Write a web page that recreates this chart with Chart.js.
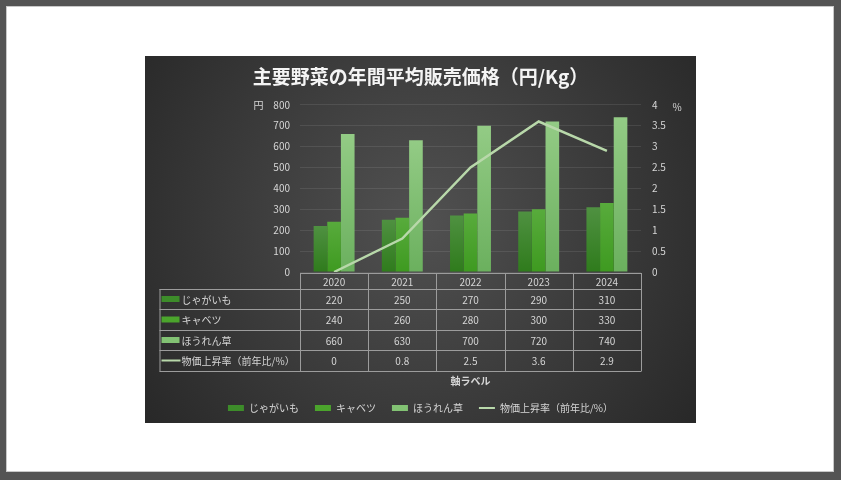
<!DOCTYPE html>
<html><head><meta charset="utf-8">
<script src="https://cdn.jsdelivr.net/npm/chart.js@4/dist/chart.umd.min.js"></script>
<style>
html,body{margin:0;padding:0;width:841px;height:480px;background:#545454;overflow:hidden;}
#frame{position:absolute;left:6px;top:6px;width:828px;height:466px;background:#fff;box-sizing:border-box;border:1px solid #c8c8c8;}
#wrap{position:absolute;left:145px;top:56px;width:551px;height:367px;}
canvas{display:block;}
</style></head><body>
<div id="frame"></div>
<div id="wrap"><canvas id="c" width="551" height="367"></canvas></div>
<script>
const categories = ['2020', '2021', '2022', '2023', '2024'];
const potato = [220, 250, 270, 290, 310];
const cabbage = [240, 260, 280, 300, 330];
const spinach = [660, 630, 700, 720, 740];
const inflation = [0, 0.8, 2.5, 3.6, 2.9];
const seriesNames = ['じゃがいも', 'キャベツ', 'ほうれん草', '物価上昇率（前年比/%）'];
const chartTitle = '主要野菜の年間平均販売価格（円/Kg）';
const leftUnit = '円';
const rightUnit = '%';
const axisLabel = '軸ラベル';

const FONT = '"Noto Sans CJK JP", "Noto Sans", sans-serif';
const TXT = '#d6d6d6';
const keyColors = ['#3d8c2a', '#4ba42c', '#82c273', '#b8d8aa'];

function barGrad(top, bottom) {
  return (ctx) => {
    const chart = ctx.chart;
    const ca = chart.chartArea;
    if (!ca || ctx.raw === undefined) return bottom;
    const y = chart.scales.y.getPixelForValue(ctx.raw);
    const g = chart.ctx.createLinearGradient(0, y, 0, ca.bottom);
    g.addColorStop(0, top);
    g.addColorStop(1, bottom);
    return g;
  };
}

const bgPlugin = {
  id: 'bg',
  beforeDraw(chart) {
    const {ctx, width, height} = chart;
    ctx.save();
    const g = ctx.createRadialGradient(width * 0.5, height * 0.45, 0, width * 0.5, height * 0.45, width * 0.62);
    g.addColorStop(0, '#515151');
    g.addColorStop(1, '#282828');
    ctx.fillStyle = g;
    ctx.fillRect(0, 0, width, height);
    ctx.restore();
  }
};

// title uses z:1, so it is drawn after the datasets; give it a soft drop shadow
const titleShadow = {
  id: 'titleShadow',
  afterDatasetsDraw(chart) {
    const ctx = chart.ctx;
    ctx.save();
    ctx.shadowColor = 'rgba(0,0,0,0.75)';
    ctx.shadowBlur = 3;
    ctx.shadowOffsetX = 1;
    ctx.shadowOffsetY = 1.5;
  },
  afterDraw(chart) {
    chart.ctx.restore();
  }
};

const tablePlugin = {
  id: 'table',
  afterDraw(chart) {
    const {ctx, chartArea: ca} = chart;
    const xs = chart.scales.x;
    const n = categories.length;
    const colW = (ca.right - ca.left) / n;
    const top = ca.bottom + 1;
    const rows = [top, top + 16, top + 36, top + 57, top + 77, top + 98];
    const labelLeft = 14.5;
    ctx.save();
    ctx.strokeStyle = '#9c9c9c';
    ctx.lineWidth = 1;
    ctx.beginPath();
    ctx.moveTo(ca.left, rows[0] + 0.5); ctx.lineTo(ca.right, rows[0] + 0.5);
    for (let r = 1; r < rows.length; r++) {
      ctx.moveTo(labelLeft, Math.round(rows[r]) + 0.5); ctx.lineTo(ca.right, Math.round(rows[r]) + 0.5);
    }
    for (let i = 0; i <= n; i++) {
      const x = Math.round(ca.left + i * colW) + 0.5;
      ctx.moveTo(x, rows[0]); ctx.lineTo(x, rows[5] + 0.5);
    }
    ctx.moveTo(labelLeft + 0.5, rows[1]); ctx.lineTo(labelLeft + 0.5, rows[5] + 0.5);
    ctx.stroke();

    ctx.fillStyle = TXT;
    ctx.font = '10px ' + FONT;
    ctx.textAlign = 'center';
    ctx.textBaseline = 'middle';
    const series = [potato, cabbage, spinach, inflation];
    categories.forEach((c, i) => {
      const cx = xs.getPixelForValue(i);
      ctx.fillText(c, cx, (rows[0] + rows[1]) / 2 + 1);
      series.forEach((s, r) => {
        ctx.fillText(String(s[i]), cx, (rows[r + 1] + rows[r + 2]) / 2 + 1);
      });
    });
    ctx.textAlign = 'left';
    seriesNames.forEach((name, r) => {
      const cy = (rows[r + 1] + rows[r + 2]) / 2;
      if (r < 3) {
        ctx.fillStyle = keyColors[r];
        ctx.fillRect(labelLeft + 2, cy - 3, 18, 6);
      } else {
        ctx.strokeStyle = keyColors[3];
        ctx.lineWidth = 2;
        ctx.beginPath();
        ctx.moveTo(labelLeft + 2, cy); ctx.lineTo(labelLeft + 21, cy);
        ctx.stroke();
      }
      ctx.fillStyle = TXT;
      ctx.fillText(name, labelLeft + 22, cy + 1);
    });
    ctx.font = 'bold 10px ' + FONT;
    ctx.textAlign = 'center';
    ctx.fillText(axisLabel, (ca.left + ca.right) / 2, 325);
    ctx.font = '10px ' + FONT;
    ctx.fillText(leftUnit, 113.5, ca.top);
    ctx.fillText(rightUnit, 532, ca.top + 2);
    ctx.restore();
  }
};

new Chart(document.getElementById('c'), {
  data: {
    labels: categories,
    datasets: [
      {type: 'bar', label: seriesNames[0], data: potato, yAxisID: 'y', order: 1,
       backgroundColor: barGrad('#4f9141', '#2f7b1c'), pointStyle: 'rect',
       categoryPercentage: 0.6, barPercentage: 1.0},
      {type: 'bar', label: seriesNames[1], data: cabbage, yAxisID: 'y', order: 1,
       backgroundColor: barGrad('#58ab3c', '#3e9a20'), pointStyle: 'rect',
       categoryPercentage: 0.6, barPercentage: 1.0},
      {type: 'bar', label: seriesNames[2], data: spinach, yAxisID: 'y', order: 1,
       backgroundColor: barGrad('#93cb85', '#6bb05e'), pointStyle: 'rect',
       categoryPercentage: 0.6, barPercentage: 1.0},
      {type: 'line', label: seriesNames[3], data: inflation, yAxisID: 'y2', order: 0,
       borderColor: '#b8d8aa', backgroundColor: '#b8d8aa', borderWidth: 2.5,
       pointRadius: 0, tension: 0, pointStyle: 'line'}
    ]
  },
  options: {
    responsive: false,
    animation: false,
    layout: {padding: 0},
    plugins: {
      title: {display: true, text: chartTitle, color: '#f4f4f4', position: 'top', z: 1,
        font: {family: FONT, size: 19, weight: 'bold'}, padding: {top: 9, bottom: 17}},
      legend: {position: 'bottom',
        labels: {color: TXT, font: {family: FONT, size: 10}, usePointStyle: true,
          pointStyleWidth: 16, boxHeight: 6, padding: 16,
          sort: (a, b) => a.datasetIndex - b.datasetIndex,
          generateLabels(chart) {
            const items = Chart.defaults.plugins.legend.labels.generateLabels(chart);
            items.forEach((it) => {
              const i = it.datasetIndex;
              it.fillStyle = keyColors[i];
              it.strokeStyle = keyColors[i];
              it.lineWidth = i === 3 ? 2 : 0;
            });
            return items;
          }}},
      tooltip: {enabled: false}
    },
    scales: {
      x: {display: true, grid: {display: false}, border: {display: false},
          ticks: {display: false},
          afterFit(s) { s.height = 151 - (s.chart.legend ? s.chart.legend.height : 36); }},
      y: {position: 'left', min: 0, max: 800,
          ticks: {stepSize: 100, color: TXT, font: {family: FONT, size: 10}, padding: 10},
          grid: {color: 'rgba(255,255,255,0.09)', drawTicks: false},
          border: {display: false},
          afterFit(s) { s.width = 155; }},
      y2: {position: 'right', min: 0, max: 4,
          ticks: {stepSize: 0.5, color: TXT, font: {family: FONT, size: 10}, padding: 11,
            callback: (v) => String(v)},
          grid: {display: false, drawTicks: false},
          border: {display: false},
          afterFit(s) { s.width = 55; }}
    }
  },
  plugins: [bgPlugin, titleShadow, tablePlugin]
});
</script>
</body></html>
